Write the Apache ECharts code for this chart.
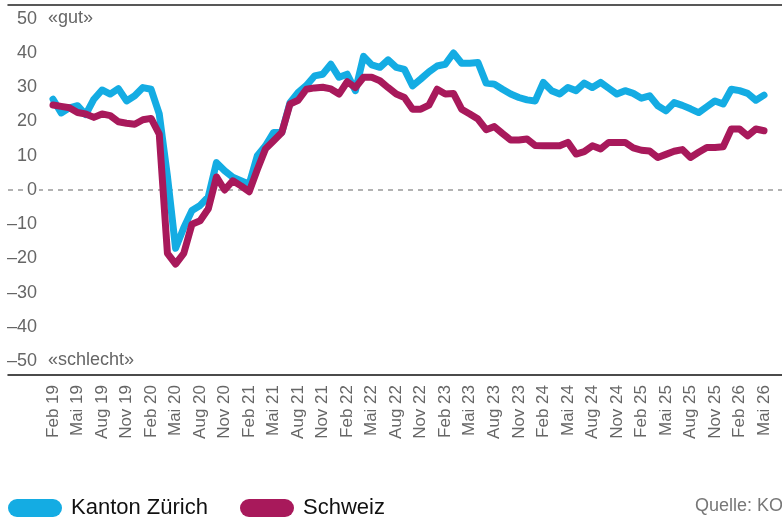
<!DOCTYPE html>
<html><head><meta charset="utf-8">
<script src="https://cdn.jsdelivr.net/npm/echarts@6/dist/echarts.min.js"></script>
<style>html,body{margin:0;padding:0;background:#fff}#c{width:782px;height:521px}</style>
</head><body><div id="c"></div>
<script>
// Tick labels (every 3rd month, starting Feb 2019 = month index 0)
const tickLabels = ['Feb 19','Mai 19','Aug 19','Nov 19','Feb 20','Mai 20','Aug 20','Nov 20',
  'Feb 21','Mai 21','Aug 21','Nov 21','Feb 22','Mai 22','Aug 22','Nov 22','Feb 23','Mai 23',
  'Aug 23','Nov 23','Feb 24','Mai 24','Aug 24','Nov 24','Feb 25','Mai 25','Aug 25','Nov 25',
  'Feb 26','Mai 26'];
const tickIndex = [0,3,6,9,12,15,18,21,24,27,30,33,36,39,42,45,48,51,54,57,60,63,66,69,72,75,78,81,84,87];
const yTicks = [-50,-40,-30,-20,-10,0,10,20,30,40,50];

// Monthly values Feb 2019 .. Mai 2026
const zurich = [26.5,22.5,24,24.6,22,26.5,29.2,28,29.6,26,
  27.5,29.9,29.4,22.2,4,-17,-11,-6,-4.5,-2,
  8,5.6,3.7,2.7,1.7,10,12.9,16.8,16.8,25.5,
  28.5,30.5,33.3,33.8,36.7,32.9,33.8,29,39,36.5,
  35.8,38,35.8,35.2,30.4,32.4,34.5,36.2,36.7,40,
  37,37,37.2,31.2,30.9,29.4,28,27,26.3,26,
  31.4,29,28,29.9,29,31.2,29.9,31.4,29.7,28,
  29,28.2,26.8,27.5,24.6,23.1,25.5,24.7,23.7,22.6,
  24.3,26,25.1,29.4,29,28.2,26.2,27.7];
const schweiz = [24.8,24.4,24,22.6,22.2,21.2,22.2,21.7,19.9,19.5,
  19.2,20.5,20.9,16.3,-18.5,-21.6,-18.5,-10,-9,-5.5,
  3.8,0,2.7,1.2,-0.5,6,12,14.4,16.8,25.1,
  26.2,29.4,29.8,30,29.5,28,31.6,29.9,32.9,32.9,
  31.9,29.9,28,27,23.6,23.6,24.8,29.4,28,28.2,
  23.6,22.2,20.7,17.6,18.5,16.5,14.6,14.6,14.9,13,
  12.9,12.9,12.9,13.9,10.5,11.2,12.9,12,13.9,13.9,
  13.9,12.3,11.6,11.4,9.5,10.4,11.3,11.8,9.5,11,
  12.4,12.4,12.6,17.8,17.8,15.8,17.8,17.3];

const seriesNames = ['Kanton Zürich','Schweiz'];
const colors = ['#14ACE3','#A8195B'];
const FONT = "'Liberation Sans', Arial, Helvetica, sans-serif";

const chart = echarts.init(document.getElementById('c'), null, {renderer:'canvas'});
const xMin = -5.507, xMax = 89.2;
const pill = 'path://M9,0 H45 A9,9 0 0 1 45,18 H9 A9,9 0 0 1 9,0 Z';

const option = {
  animation: false,
  textStyle: {fontFamily: FONT},
  grid: {left: 8, right: 0, top: 5, bottom: 146, containLabel: false},
  xAxis: [{
    type: 'value', min: xMin, max: xMax, position: 'bottom',
    axisLine: {show: true, onZero: false, lineStyle: {color: '#111', width: 1.5}},
    axisTick: {show: false},
    splitLine: {show: false},
    axisLabel: {
      customValues: tickIndex, rotate: 90, margin: 10,
      fontSize: 17, color: '#666', fontFamily: FONT,
      formatter: v => { const k = tickIndex.indexOf(Math.round(v)); return k >= 0 ? tickLabels[k] : ''; }
    }
  }, {
    type: 'value', min: xMin, max: xMax, position: 'top',
    axisLine: {show: true, onZero: false, lineStyle: {color: '#222', width: 1.5}},
    axisTick: {show: false}, axisLabel: {show: false}, splitLine: {show: false}
  }],
  yAxis: {
    type: 'value', min: -54, max: 54, z: 10,
    axisLine: {show: false}, axisTick: {show: false}, splitLine: {show: false},
    axisLabel: {
      customValues: yTicks, margin: -31, fontSize: 18, color: '#666', fontFamily: FONT,
      backgroundColor: '#fff', padding: [0, 2, 0, 2],
      formatter: v => v < 0 ? '\u2013' + Math.abs(v) : String(v)
    }
  },
  legend: [{
    data: [seriesNames[0]], left: 8, top: 497, padding: 0,
    icon: pill, itemWidth: 54, itemHeight: 19,
    textStyle: {fontSize: 22, color: '#111', fontFamily: FONT, padding: [0,0,0,4]}
  }, {
    data: [seriesNames[1]], left: 240, top: 497, padding: 0,
    icon: pill, itemWidth: 54, itemHeight: 19,
    textStyle: {fontSize: 22, color: '#111', fontFamily: FONT, padding: [0,0,0,4]}
  }],
  series: [{
    name: seriesNames[0], type: 'line', data: zurich.map((v,i)=>[i,v]),
    showSymbol: false, color: colors[0], z: 3,
    lineStyle: {width: 7, color: colors[0], cap: 'round', join: 'round'},
    markLine: {
      silent: true, symbol: 'none', z: 1,
      label: {show: false},
      lineStyle: {type: [5,5], color: '#999', width: 1.5},
      data: [{yAxis: 0}]
    }
  }, {
    name: seriesNames[1], type: 'line', data: schweiz.map((v,i)=>[i,v]),
    showSymbol: false, color: colors[1], z: 4,
    lineStyle: {width: 7, color: colors[1], cap: 'round', join: 'round'}
  }]
};
chart.setOption(option);

const yTop = chart.convertToPixel({yAxisIndex: 0}, 50);
const yBot = chart.convertToPixel({yAxisIndex: 0}, -50);
chart.setOption({
  graphic: [
    {type: 'text', left: 48, top: yTop - 10, style: {text: '«gut»', font: "18px " + FONT, fill: '#666'}},
    {type: 'text', left: 48, top: yBot - 10, style: {text: '«schlecht»', font: "18px " + FONT, fill: '#666'}},
    {type: 'text', left: 695, top: 497, style: {text: 'Quelle: KOF', font: "18px " + FONT, fill: '#777'}}
  ]
});
</script>
</body></html>
